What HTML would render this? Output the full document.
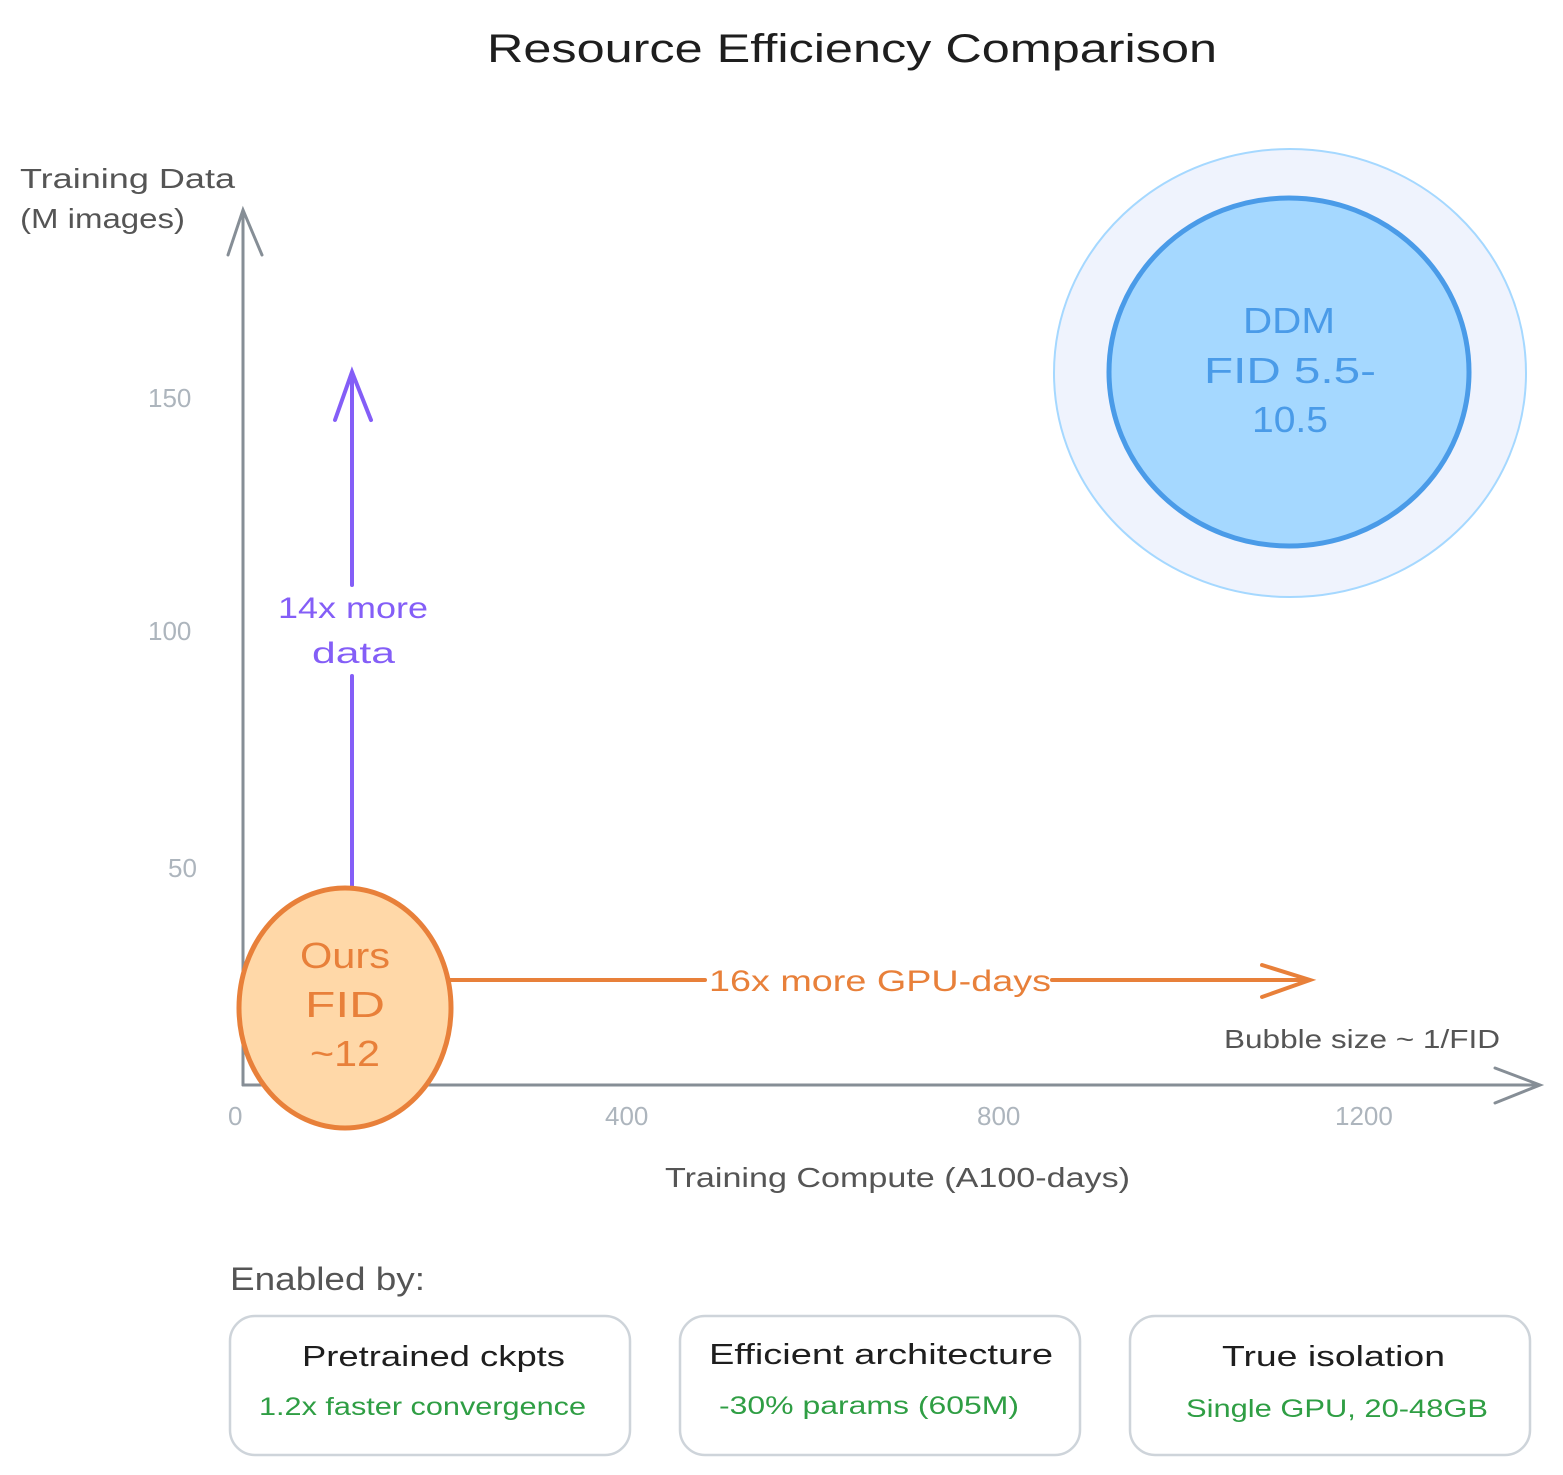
<!DOCTYPE html>
<html><head><meta charset="utf-8"><style>
html,body{margin:0;padding:0;background:#fff}
svg{display:block}
text{font-family:"Liberation Sans",sans-serif}
</style></head><body>
<svg width="1563" height="1475" viewBox="0 0 1563 1475" xmlns="http://www.w3.org/2000/svg">
<rect width="1563" height="1475" fill="#fff"/>
<text x="487" y="62" font-size="40" textLength="730" lengthAdjust="spacingAndGlyphs" fill="#1e1e1e">Resource Efficiency Comparison</text>

<g stroke="#868e96" stroke-width="3" fill="none" stroke-linecap="round">
<path d="M243 1085 L243 210 M228 255 L243 210 L262 255"/>
<path d="M243 1085 L1540 1085 M1495 1068 L1540 1085 L1495 1103"/>
</g>
<text x="20" y="188" font-size="28" textLength="215" lengthAdjust="spacingAndGlyphs" fill="#555">Training Data</text>
<text x="20" y="228" font-size="28" textLength="165" lengthAdjust="spacingAndGlyphs" fill="#555">(M images)</text>
<g font-size="26" fill="#adb5bd">
<text x="148" y="407">150</text>
<text x="148" y="640">100</text>
<text x="168" y="877">50</text>
<text x="228" y="1125">0</text>
<text x="605" y="1125">400</text>
<text x="977" y="1125">800</text>
<text x="1335" y="1125">1200</text>
</g>
<text x="665" y="1187" font-size="28" textLength="465" lengthAdjust="spacingAndGlyphs" fill="#555">Training Compute (A100-days)</text>
<text x="1224" y="1048" font-size="26" textLength="276" lengthAdjust="spacingAndGlyphs" fill="#555">Bubble size ~ 1/FID</text>

<ellipse cx="1290" cy="373" rx="236" ry="224" fill="#eff3fd" stroke="#a5d8ff" stroke-width="2"/>
<ellipse cx="1289" cy="372" rx="180" ry="174" fill="#a5d8ff" stroke="#4a9be8" stroke-width="5"/>
<g font-size="36" fill="#4a9be8">
<text x="1243" y="333" textLength="92" lengthAdjust="spacingAndGlyphs">DDM</text>
<text x="1204" y="383" textLength="172" lengthAdjust="spacingAndGlyphs">FID 5.5-</text>
<text x="1252" y="432" textLength="76" lengthAdjust="spacingAndGlyphs">10.5</text>
</g>

<g stroke="#845ef7" stroke-width="4" fill="none" stroke-linecap="round">
<path d="M352 888 L352 676 M352 585 L352 372 M335 420 L352 372 L371 420"/>
</g>
<g font-size="30" fill="#845ef7">
<text x="278" y="618" textLength="150" lengthAdjust="spacingAndGlyphs">14x more</text>
<text x="312" y="663" textLength="83" lengthAdjust="spacingAndGlyphs">data</text>
</g>

<g stroke="#e8803a" stroke-width="4" fill="none" stroke-linecap="round">
<path d="M450 980 L705 980 M1052 980 L1310 980 M1262 965 L1310 980 L1262 997"/>
</g>
<text x="709" y="991" font-size="30" textLength="342" lengthAdjust="spacingAndGlyphs" fill="#e8803a">16x more GPU-days</text>

<ellipse cx="345" cy="1008" rx="106" ry="120" fill="#ffd8a8" stroke="#e8803a" stroke-width="5"/>
<g font-size="36" fill="#e8803a">
<text x="300" y="968" textLength="90" lengthAdjust="spacingAndGlyphs">Ours</text>
<text x="305" y="1017" textLength="80" lengthAdjust="spacingAndGlyphs">FID</text>
<text x="310" y="1066" textLength="70" lengthAdjust="spacingAndGlyphs">~12</text>
</g>

<text x="230" y="1290" font-size="32" textLength="195" lengthAdjust="spacingAndGlyphs" fill="#555">Enabled by:</text>
<g fill="#fff" stroke="#ced4da" stroke-width="2.5">
<rect x="230" y="1316" width="400" height="139" rx="25"/>
<rect x="680" y="1316" width="400" height="139" rx="25"/>
<rect x="1130" y="1316" width="400" height="139" rx="25"/>
</g>
<g font-size="29" fill="#1e1e1e">
<text x="302" y="1366" textLength="263" lengthAdjust="spacingAndGlyphs">Pretrained ckpts</text>
<text x="709" y="1364" textLength="344" lengthAdjust="spacingAndGlyphs">Efficient architecture</text>
<text x="1222" y="1366" textLength="223" lengthAdjust="spacingAndGlyphs">True isolation</text>
</g>
<g font-size="25" fill="#2f9e44">
<text x="259" y="1415" textLength="327" lengthAdjust="spacingAndGlyphs">1.2x faster convergence</text>
<text x="719" y="1414" textLength="300" lengthAdjust="spacingAndGlyphs">-30% params (605M)</text>
<text x="1186" y="1417" textLength="302" lengthAdjust="spacingAndGlyphs">Single GPU, 20-48GB</text>
</g>
</svg>
</body></html>
